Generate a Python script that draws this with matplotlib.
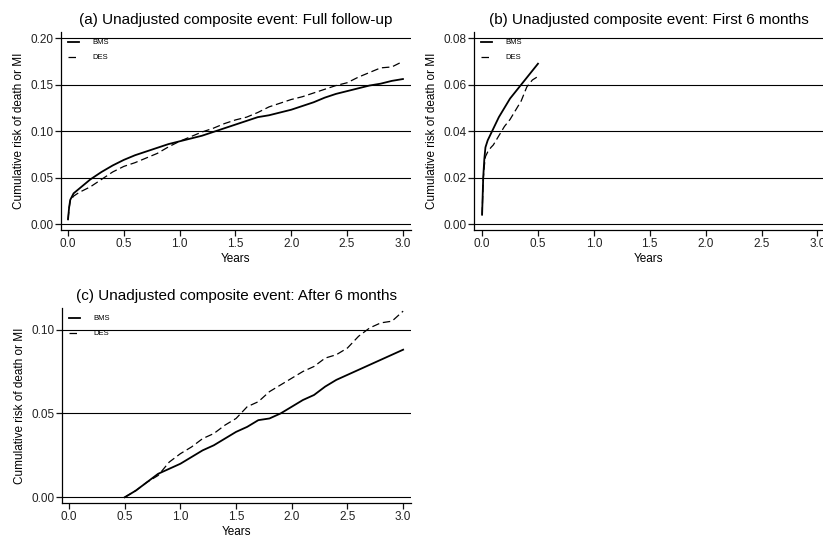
import matplotlib
matplotlib.use("Agg")
import matplotlib.pyplot as plt

plt.rcParams.update({
    "font.family": ["Liberation Sans", "DejaVu Sans"],
    "font.size": 8.5,
    "axes.linewidth": 0.9,
    "xtick.major.size": 4.5, "ytick.major.size": 4.5,
    "xtick.major.width": 0.9, "ytick.major.width": 0.9,
    "xtick.labelsize": 8.5, "ytick.labelsize": 8.5,
    "xtick.color": "#111111", "ytick.color": "#111111",
    "xtick.labelcolor": "#222222", "ytick.labelcolor": "#222222",
})

# (a) full follow-up
a_t = [0.0, 0.01, 0.02, 0.05, 0.1, 0.2, 0.3, 0.4, 0.5, 0.6, 0.7, 0.8, 0.9, 1.0,
       1.1, 1.2, 1.3, 1.4, 1.5, 1.6, 1.7, 1.8, 1.9, 2.0, 2.1, 2.2, 2.3, 2.4,
       2.5, 2.6, 2.7, 2.8, 2.9, 3.0]
a_bms = [0.005, 0.018, 0.026, 0.033, 0.038, 0.048, 0.056, 0.063, 0.069, 0.074,
         0.078, 0.082, 0.086, 0.089, 0.092, 0.095, 0.099, 0.103, 0.107, 0.111,
         0.115, 0.117, 0.120, 0.123, 0.127, 0.131, 0.136, 0.140, 0.143, 0.146,
         0.149, 0.151, 0.154, 0.156]
a_des = [0.005, 0.017, 0.025, 0.030, 0.034, 0.040, 0.048, 0.056, 0.062, 0.066,
         0.071, 0.076, 0.083, 0.089, 0.094, 0.099, 0.103, 0.108, 0.112, 0.115,
         0.120, 0.126, 0.130, 0.134, 0.137, 0.141, 0.145, 0.149, 0.152, 0.158,
         0.163, 0.168, 0.169, 0.175]

# (b) first 6 months
b_t = [0.0, 0.01, 0.02, 0.03, 0.05, 0.08, 0.1, 0.15, 0.2, 0.25, 0.3, 0.35,
       0.4, 0.45, 0.5]
b_bms = [0.004, 0.020, 0.028, 0.033, 0.036, 0.039, 0.041, 0.046, 0.050,
         0.054, 0.057, 0.060, 0.063, 0.066, 0.069]
b_des = [0.004, 0.019, 0.025, 0.029, 0.031, 0.033, 0.034, 0.038, 0.042,
         0.045, 0.049, 0.053, 0.059, 0.062, 0.0635]

# (c) after 6 months
c_t = [0.5, 0.6, 0.7, 0.8, 0.9, 1.0, 1.1, 1.2, 1.3, 1.4, 1.5, 1.6, 1.7, 1.8,
       1.9, 2.0, 2.1, 2.2, 2.3, 2.4, 2.5, 2.6, 2.7, 2.8, 2.9, 3.0]
c_bms = [0.0, 0.004, 0.009, 0.014, 0.017, 0.020, 0.024, 0.028, 0.031, 0.035,
         0.039, 0.042, 0.046, 0.047, 0.050, 0.054, 0.058, 0.061, 0.066, 0.070,
         0.073, 0.076, 0.079, 0.082, 0.085, 0.088]
c_des = [0.0, 0.004, 0.009, 0.013, 0.021, 0.026, 0.030, 0.035, 0.038, 0.043,
         0.047, 0.054, 0.057, 0.063, 0.067, 0.071, 0.075, 0.078, 0.083, 0.085,
         0.089, 0.096, 0.101, 0.104, 0.105, 0.111]

x_ticks = [0.0, 0.5, 1.0, 1.5, 2.0, 2.5, 3.0]

panels = [
    dict(pos=[0.0741, 0.570, 0.425, 0.370], t=a_t, bms=a_bms, des=a_des,
         title="(a) Unadjusted composite event: Full follow-up",
         yticks=[0.00, 0.05, 0.10, 0.15, 0.20], ylim=(-0.0065, 0.2065),
         xlim=(-0.063, 3.07)),
    dict(pos=[0.576, 0.570, 0.424, 0.370], t=b_t, bms=b_bms, des=b_des,
         title="(b) Unadjusted composite event: First 6 months",
         yticks=[0.00, 0.02, 0.04, 0.06, 0.08], ylim=(-0.0026, 0.0826),
         xlim=(-0.072, 3.05)),
    dict(pos=[0.0753, 0.0598, 0.424, 0.364], t=c_t, bms=c_bms, des=c_des,
         title="(c) Unadjusted composite event: After 6 months",
         yticks=[0.00, 0.05, 0.10], ylim=(-0.0034, 0.1127),
         xlim=(-0.063, 3.07)),
]

fig = plt.figure(figsize=(8.23, 5.35), dpi=100)
for p in panels:
    ax = fig.add_axes(p["pos"])
    for y in p["yticks"]:
        ax.axhline(y, color="black", lw=0.8, zorder=1)
    ax.plot(p["t"], p["bms"], color="black", lw=1.3, label="BMS", zorder=3)
    ax.plot(p["t"], p["des"], color="black", lw=0.9, dashes=(6, 3),
            label="DES", zorder=3)
    ax.set_xlim(*p["xlim"])
    ax.set_ylim(*p["ylim"])
    ax.set_xticks(x_ticks)
    ax.set_xticklabels([f"{v:.1f}" for v in x_ticks])
    ax.set_yticks(p["yticks"])
    ax.set_yticklabels([f"{v:.2f}" for v in p["yticks"]])
    ax.spines["top"].set_visible(False)
    ax.spines["right"].set_visible(False)
    ax.tick_params(axis="y", pad=1)
    ax.tick_params(axis="x", pad=1.5)
    ax.set_xlabel("Years", fontsize=8.5, labelpad=2)
    ax.set_ylabel("Cumulative risk of death or MI", fontsize=8.5, labelpad=4)
    ax.set_title(p["title"], fontsize=11, pad=6)
    ax.legend(loc="upper left", bbox_to_anchor=(0.0, 1.0), frameon=False,
              fontsize=5.5, handlelength=1.4, handletextpad=1.8,
              borderaxespad=0.5, labelspacing=1.0)

fig.savefig("out.png", dpi=100)
